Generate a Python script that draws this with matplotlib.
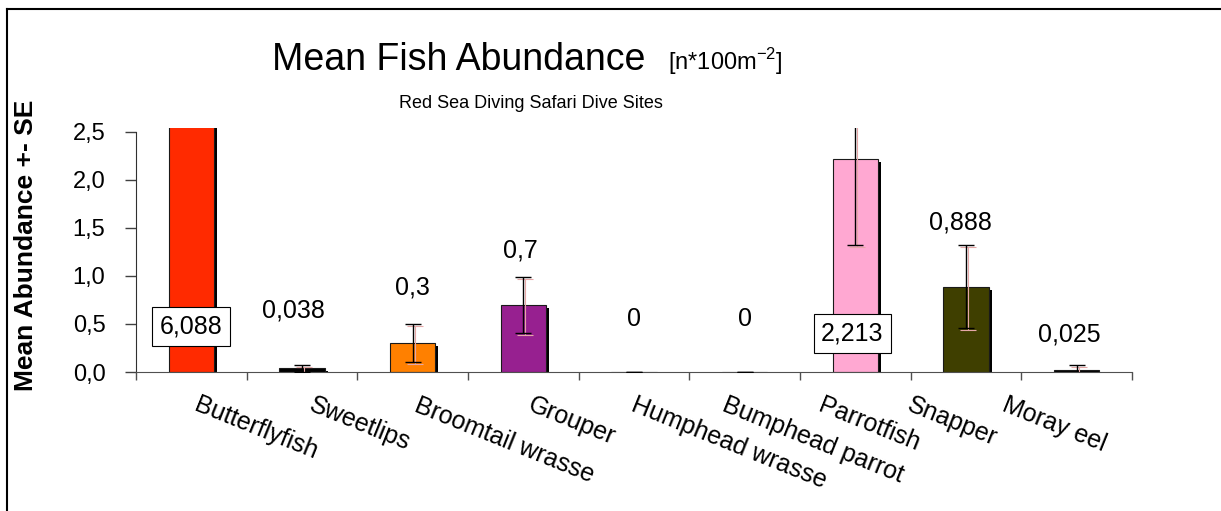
import matplotlib
matplotlib.use("Agg")
import matplotlib.pyplot as plt
from matplotlib.transforms import offset_copy
import numpy as np

# data
species = ["Butterflyfish", "Sweetlips", "Broomtail wrasse", "Grouper",
           "Humphead wrasse", "Bumphead parrot", "Parrotfish", "Snapper", "Moray eel"]
mean_abundance = [6.088, 0.038, 0.3, 0.7, 0, 0, 2.213, 0.888, 0.025]
se = [1.5, 0.035, 0.2, 0.29, 0, 0, 0.89, 0.43, 0.047]
bar_colors = ["#FF2A00", "#000000", "#FF8000", "#972090", "#000000",
              "#000000", "#FFA8D2", "#3F3F00", "#000000"]
boxed = [True, False, False, False, False, False, True, False, False]
y_ticks = [0.0, 0.5, 1.0, 1.5, 2.0, 2.5]

# layout: where the value labels sit (data units) and label nudges (pixels)
label_y = [0.47, 0.64, 0.88, 1.26, 0.55, 0.55, 0.40, 1.55, 0.385]
label_dx = [0, -9, 0, -3, 0, 0, -3, -6, -7]
tick_dx = [9, 13, 7, 10, 3, -17, -31, -53, -69]

plt.rcParams["font.family"] = ["Liberation Sans", "DejaVu Sans"]

W, H = 1221, 511
fig = plt.figure(figsize=(W / 100, H / 100), dpi=100)
ax = fig.add_axes([136 / W, 1 - 372 / H, (1132 - 136) / W, (372 - 128) / H])

x = np.arange(len(species))
width = 0.41

# drop shadow behind each bar
shadow_tf = offset_copy(ax.transData, fig=fig, x=3, y=-3, units="dots")
ax.bar(x, mean_abundance, width, color="black", linewidth=0, transform=shadow_tf, zorder=1)
ax.bar(x, mean_abundance, width, color=bar_colors, edgecolor="#1a1a1a", linewidth=0.8, zorder=2)

# error bars, with the faint reddish echo Excel drew
echo = ax.errorbar(x, mean_abundance, yerr=se, fmt="none", ecolor="#e6a8a8",
                   elinewidth=0.8, capsize=6, capthick=0.8, zorder=3)
echo_tf = offset_copy(ax.transData, fig=fig, x=2, y=-2, units="dots")
for a in list(echo.lines[1]) + list(echo.lines[2]):
    a.set_transform(echo_tf)
ax.errorbar(x, mean_abundance, yerr=se, fmt="none", ecolor="black",
            elinewidth=1, capsize=6, capthick=1, zorder=4)

# value labels
for i, v in enumerate(mean_abundance):
    txt = f"{v:g}".replace(".", ",")
    tf = offset_copy(ax.transData, fig=fig, x=label_dx[i], y=0, units="dots")
    kw = {}
    if boxed[i]:
        kw["bbox"] = dict(boxstyle="square,pad=0.3", facecolor="white",
                          edgecolor="black", linewidth=0.8)
    ax.text(x[i], label_y[i], txt, transform=tf, ha="center", va="center",
            fontsize=18, zorder=6, **kw)

ax.set_xlim(-0.5, len(species) - 0.5)
ax.set_ylim(0, 2.538)

ax.set_yticks(y_ticks)
ax.set_yticklabels([f"{t:.1f}".replace(".", ",") for t in y_ticks], fontsize=17)
ax.tick_params(axis="y", length=8, width=1, color="#404040", pad=14)
ax.set_xticks(np.arange(len(species) + 1) - 0.5)
ax.set_xticklabels([])
ax.tick_params(axis="x", length=6, width=1, color="#505050")

for s in ["top", "right"]:
    ax.spines[s].set_visible(False)
ax.spines["left"].set_bounds(0, 2.5)
ax.spines["left"].set_color("#303030")
ax.spines["bottom"].set_color("#505050")

# category labels, slanted
for i, name in enumerate(species):
    tf = offset_copy(ax.get_xaxis_transform(), fig=fig, x=tick_dx[i], y=-21, units="dots")
    ax.text(x[i], 0, name, transform=tf, rotation=-22, rotation_mode="anchor",
            ha="left", va="top", fontsize=18, clip_on=False)

ax.set_ylabel("Mean Abundance +- SE", fontsize=19, fontweight="bold")
ax.yaxis.set_label_coords((38 - 136) / 996, 0.52)

fig.text(272 / W, 1 - 70 / H, "Mean Fish Abundance", fontsize=27,
         ha="left", va="baseline")
fig.text(668 / W, 1 - 70 / H, r"[n*100m$^{\mathregular{-2}}$]", fontsize=17,
         ha="left", va="baseline")
fig.text(531 / W, 1 - 108 / H, "Red Sea Diving Safari Dive Sites", fontsize=13,
         ha="center", va="baseline")

# outer frame (left and top edges only visible)
fig.add_artist(plt.Line2D([7 / W, 7 / W], [0, 1 - 9 / H], color="black", linewidth=1.5))
fig.add_artist(plt.Line2D([7 / W, 1], [1 - 9 / H, 1 - 9 / H], color="black", linewidth=1.5))

fig.savefig("out.png", dpi=100)
